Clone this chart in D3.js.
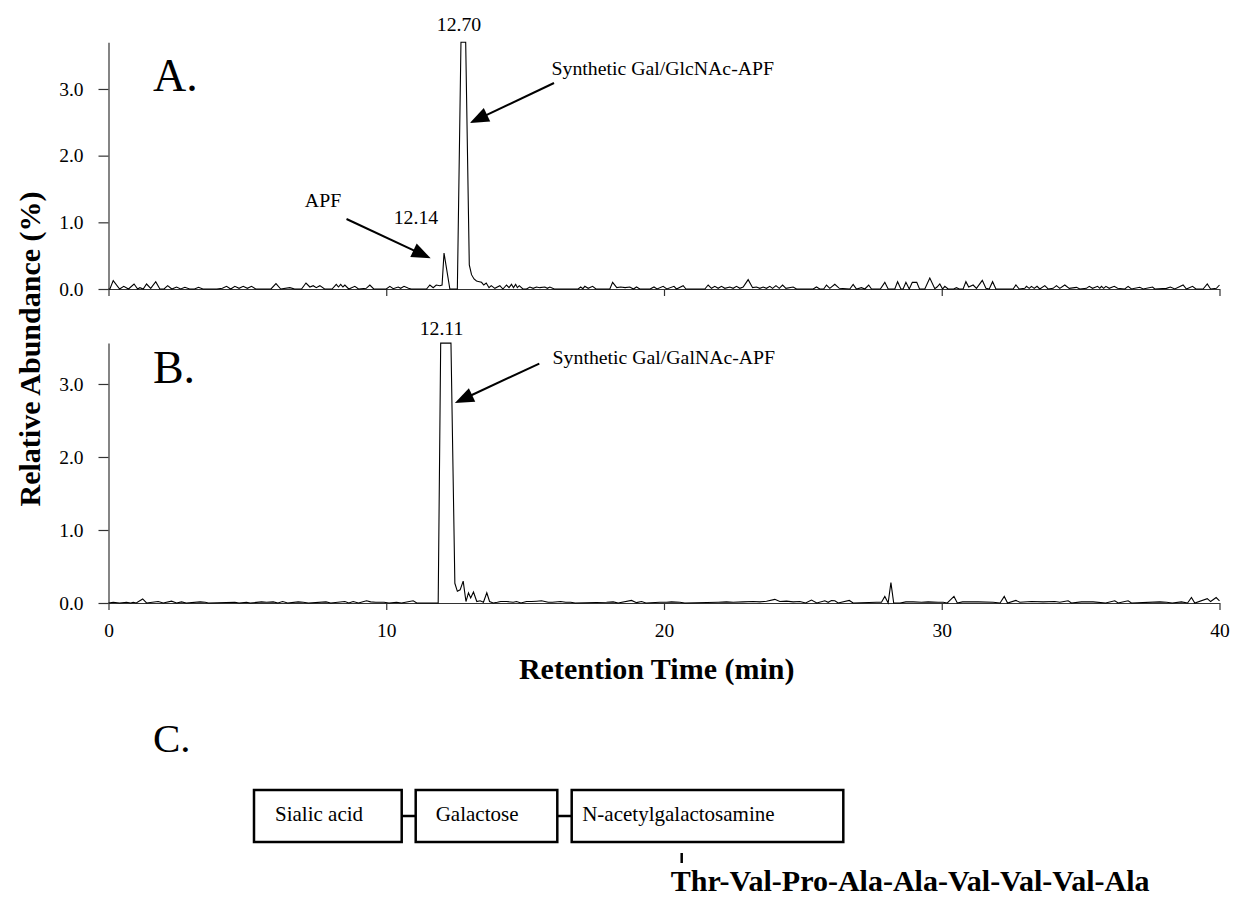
<!DOCTYPE html>
<html lang="en">
<head>
    <meta charset="UTF-8">
    <title>Chromatograms of synthetic glyco-APF</title>
    <script src="https://d3js.org/d3.v7.min.js"></script>
    <style>
        body {
            margin: 0;
            padding: 0;
            background-color: #fff;
        }
        svg text {
            font-family: "Liberation Serif", "Times New Roman", serif;
            fill: #000;
        }
        .axis path, .axis line {
            stroke: #333;
            stroke-width: 1.2;
        }
        .axis text {
            font-size: 19.5px;
        }
    </style>
</head>
<body>
<div id="chart"></div>
<script>
// x ticks (min) and y ticks (%)
const timeTicks = [0, 10, 20, 30, 40];
const abundanceTicks = [0, 1, 2, 3];

// trace A: [retention time (min), relative abundance (%)] - Gal/GlcNAc-APF run
// peak top is off scale, it gets clamped to the top of the axis
const traceA = [
    [0,0],[0.05,0],[0.17,0.125],[0.4,0],[0.55,0.04],[0.72,0],[0.92,0.075],[1.05,0],[1.13,0.02],[1.25,0],
    [1.37,0.075],[1.52,0.01],[1.7,0.11],[1.85,0],[2.0,0],[2.13,0.05],[2.28,0],[2.45,0.03],[2.6,0],[2.75,0.025],
    [2.92,0],[3.1,0],[3.24,0.025],[3.4,0],[3.9,0],[4.1,0.01],[4.25,0.04],[4.4,0],[4.55,0.04],[4.7,0.01],
    [4.85,0.04],[5.0,0.01],[5.15,0.04],[5.3,0],[5.85,0],[6.03,0.08],[6.2,0],[6.53,0.02],[6.7,0],[6.95,0],
    [7.11,0.09],[7.25,0.03],[7.37,0.05],[7.48,0.02],[7.61,0.05],[7.78,0],[8.05,0],[8.2,0.07],[8.28,0.03],[8.36,0.07],
    [8.44,0.03],[8.51,0.06],[8.65,0],[8.87,0.04],[9.0,0],[9.28,0.01],[9.41,0.06],[9.55,0],[10.0,0],[10.13,0.04],
    [10.25,0.005],[10.43,0.03],[10.52,0.01],[10.64,0.04],[10.8,0.01],[10.9,0],[11.45,0],[11.57,0.06],[11.69,0.02],[11.8,0.06],
    [11.93,0.05],[12.01,0.06],[12.08,0.54],[12.29,0],[12.56,0],[12.69,25],[12.86,25],[12.99,0.36],[13.07,0.215],[13.16,0.15],
    [13.25,0.12],[13.35,0.11],[13.43,0.1],[13.51,0.06],[13.6,0.09],[13.7,0.02],[13.78,0.05],[13.91,0.01],[14.09,0.05],[14.2,0],
    [14.33,0.06],[14.42,0.02],[14.51,0.07],[14.58,0.02],[14.66,0.07],[14.72,0.02],[14.79,0.05],[14.92,0],[15.05,0],[15.17,0.03],
    [15.29,0.01],[15.41,0.03],[15.53,0.02],[15.71,0.03],[15.8,0.01],[15.89,0.03],[16.05,0],[16.91,0],[17.0,0.03],[17.08,0.005],
    [17.15,0.04],[17.27,0.01],[17.43,0.04],[17.55,0],[18.05,0],[18.15,0.1],[18.3,0.02],[18.44,0.03],[18.6,0.02],[18.77,0.03],
    [18.9,0],[19.01,0.03],[19.13,0],[19.5,0],[19.64,0.03],[19.75,0],[19.97,0.04],[20.1,0],[20.36,0.04],[20.45,0],
    [20.69,0.05],[20.79,0],[21.47,0],[21.59,0.06],[21.71,0.01],[21.83,0.04],[21.95,0.01],[22.07,0.04],[22.19,0.01],[22.37,0.03],
    [22.49,0.01],[22.61,0.04],[22.73,0.01],[22.85,0.03],[23.03,0.14],[23.19,0.02],[23.33,0.03],[23.45,0.01],[23.57,0.03],[23.69,0.01],
    [23.81,0.04],[23.91,0.01],[24.03,0.05],[24.15,0.01],[24.27,0.06],[24.39,0.01],[24.65,0.03],[24.77,0],[25.37,0],[25.49,0.03],
    [25.61,0],[25.75,0],[25.85,0.06],[25.97,0.01],[26.15,0.07],[26.31,0.01],[26.69,0],[26.81,0.07],[26.93,0],[27.11,0.02],
    [27.23,0],[27.37,0.06],[27.47,0],[27.79,0],[27.95,0.1],[28.07,0],[28.31,0],[28.41,0.11],[28.53,0],[28.61,0],
    [28.71,0.1],[28.83,0],[28.94,0.1],[29.1,0.1],[29.2,0],[29.39,0],[29.57,0.165],[29.75,0.005],[29.83,0.03],[29.93,0.075],
    [30.03,0],[30.11,0.04],[30.23,0],[30.43,0],[30.53,0.02],[30.63,0],[30.77,0],[30.87,0.11],[30.97,0.03],[31.13,0.06],
    [31.25,0.01],[31.46,0.13],[31.59,0.01],[31.71,0],[31.83,0.11],[31.95,0],[32.57,0],[32.67,0.06],[32.79,0],[32.99,0.01],
    [33.05,0.04],[33.15,0.01],[33.23,0.04],[33.33,0.01],[33.43,0.04],[33.53,0],[33.71,0.05],[33.83,0],[34.01,0.01],[34.13,0.05],
    [34.25,0.01],[34.43,0.06],[34.59,0.01],[34.85,0.025],[34.97,0],[35.21,0.01],[35.31,0.04],[35.43,0.01],[35.61,0.04],[35.69,0.01],
    [35.75,0.04],[35.83,0.01],[35.91,0.04],[36.03,0.01],[36.21,0.04],[36.33,0.01],[36.59,0],[36.71,0.04],[36.83,0],[37.13,0.025],
    [37.25,0],[37.59,0.03],[37.67,0],[38.09,0.01],[38.23,0.03],[38.39,0],[38.69,0.06],[38.81,0],[39.03,0.04],[39.15,0],
    [39.41,0],[39.56,0.075],[39.68,0],[39.89,0.01],[40.0,0.06]
];

// trace B: Gal/GalNAc-APF run
const traceB = [
    [0,0],[0.17,0.01],[0.4,0],[0.65,0.01],[0.8,0],[0.89,0.01],[1.0,0],[1.23,0.055],[1.37,0],[1.79,0.02],
    [1.97,0],[2.27,0.025],[2.45,0],[2.63,0.015],[2.8,0],[3.3,0.015],[3.48,0.01],[3.6,0],[4.55,0.01],[4.7,0],
    [4.97,0.01],[5.1,0],[5.51,0.015],[5.69,0.01],[5.93,0.015],[6.1,0],[6.27,0.02],[6.45,0],[6.83,0.015],[7.01,0.01],
    [7.2,0],[7.83,0.015],[8.0,0],[8.51,0.02],[8.65,0],[8.81,0.02],[9.0,0],[9.29,0.03],[9.44,0.015],[9.62,0.01],
    [9.92,0.01],[10.1,0],[10.37,0.01],[10.55,0],[10.97,0.03],[11.1,0],[11.87,0],[11.96,25],[12.33,25],[12.47,0.27],
    [12.56,0.16],[12.66,0.18],[12.77,0.3],[12.87,0.02],[12.96,0.14],[13.04,0.07],[13.14,0.15],[13.26,0.02],[13.38,0.03],[13.5,0.01],
    [13.62,0.14],[13.72,0.02],[13.85,0],[14.0,0.01],[14.12,0.02],[14.33,0.02],[14.57,0.01],[14.69,0.02],[14.85,0],[15.05,0.02],
    [15.23,0.02],[15.41,0.025],[15.59,0.03],[15.71,0.02],[15.83,0.01],[15.98,0.01],[16.28,0.02],[16.46,0.01],[16.64,0.01],[16.8,0],
    [17.93,0.01],[18.17,0.015],[18.35,0],[18.83,0.035],[19.01,0.005],[19.19,0.02],[19.35,0],[19.85,0.01],[20.09,0.01],[20.27,0.015],
    [20.57,0.01],[20.75,0],[21.95,0.01],[22.25,0.015],[22.49,0.01],[22.85,0.015],[23.21,0.02],[23.45,0.015],[23.69,0.025],[23.99,0.05],
    [24.17,0.02],[24.41,0.025],[24.65,0.015],[24.89,0.02],[25.1,0],[25.31,0.04],[25.5,0],[25.79,0.03],[25.91,0.01],[26.03,0.035],
    [26.15,0.03],[26.27,0],[26.67,0.035],[26.81,0],[27.65,0.01],[27.83,0.01],[27.95,0.09],[28.07,0],[28.17,0.28],[28.27,0],
    [28.5,0],[28.71,0.015],[28.97,0.015],[29.27,0.01],[29.51,0.015],[29.87,0.01],[30.05,0.01],[30.2,0],[30.44,0.09],[30.56,0],
    [30.75,0.015],[31.31,0.015],[31.85,0.01],[32.1,0],[32.25,0.09],[32.37,0],[32.67,0.035],[32.81,0.01],[33.23,0.02],[33.65,0.015],
    [34.07,0.02],[34.25,0.01],[34.55,0.03],[34.67,0],[35.03,0.015],[35.45,0.015],[35.9,0],[36.23,0.03],[36.35,0],[36.71,0.03],
    [36.83,0],[37.85,0.015],[38.09,0.01],[38.3,0],[38.63,0.015],[38.85,0],[38.99,0.075],[39.11,0],[39.56,0.06],[39.68,0.02],
    [39.88,0.075],[40.0,0.03]
];

// panel C structure
const glycans = ["Sialic acid", "Galactose", "N-acetylgalactosamine"];
const peptide = ["Thr", "Val", "Pro", "Ala", "Ala", "Val", "Val", "Val", "Ala"];

const width = 1235, height = 900;

const svg = d3.select("#chart")
    .append("svg")
    .attr("width", width)
    .attr("height", height);

svg.append("rect").attr("width", width).attr("height", height).attr("fill", "#fff");

const x = d3.scaleLinear().domain([0, 40]).range([108.5, 1219.5]);

// each panel has its own y range (clamped so the big peaks get a flat top)
const panels = [
    { name: "A.", trace: traceA, y: d3.scaleLinear().domain([0, 3.7]).range([289, 42.3]).clamp(true), labels: false },
    { name: "B.", trace: traceB, y: d3.scaleLinear().domain([0, 3.56]).range([603, 343.1]).clamp(true), labels: true }
];

panels.forEach(p => {
    const yBase = p.y.range()[0];

    svg.append("g")
        .attr("class", "axis")
        .attr("transform", `translate(0,${yBase})`)
        .call(d3.axisBottom(x)
            .tickValues(timeTicks)
            .tickSize(7)
            .tickSizeOuter(0)
            .tickPadding(13)
            .tickFormat(p.labels ? d3.format("d") : ""));

    svg.append("g")
        .attr("class", "axis")
        .attr("transform", `translate(${x(0)},0)`)
        .call(d3.axisLeft(p.y)
            .tickValues(abundanceTicks)
            .tickSize(10)
            .tickSizeOuter(0)
            .tickPadding(15)
            .tickFormat(d3.format(".1f")));

    const line = d3.line()
        .x(d => x(d[0]))
        .y(d => p.y(d[1]));

    svg.append("path")
        .datum(p.trace)
        .attr("fill", "none")
        .attr("stroke", "#000")
        .attr("stroke-width", 1.1)
        .attr("stroke-linejoin", "miter")
        .attr("d", line);

    svg.append("text")
        .attr("x", x(1.6))
        .attr("y", p.y.copy().clamp(false)(p.name === "A." ? 2.97 : 3.01))
        .style("font-size", "46px")
        .text(p.name);
});

const yA = panels[0].y.copy().clamp(false);
const yB = panels[1].y.copy().clamp(false);

function label(text, t, v, yScale, anchor) {
    svg.append("text")
        .attr("x", x(t))
        .attr("y", yScale(v))
        .attr("text-anchor", anchor)
        .style("font-size", "19.8px")
        .text(text);
}

function arrow(t0, v0, t1, v1, yScale) {
    const x0 = x(t0), y0 = yScale(v0), x1 = x(t1), y1 = yScale(v1);
    const len = Math.hypot(x1 - x0, y1 - y0);
    const ux = (x1 - x0) / len, uy = (y1 - y0) / len;
    const headLen = 19, headW = 7.5;
    const bx = x1 - ux * headLen, by = y1 - uy * headLen;
    svg.append("line")
        .attr("x1", x0).attr("y1", y0)
        .attr("x2", bx + ux * 2).attr("y2", by + uy * 2)
        .attr("stroke", "#000")
        .attr("stroke-width", 2);
    svg.append("polygon")
        .attr("points", [
            [x1, y1],
            [bx - uy * headW, by + ux * headW],
            [bx + uy * headW, by - ux * headW]
        ].map(d => d.join(",")).join(" "))
        .attr("fill", "#000");
}

// panel A annotations
label("12.70", 12.62, 3.87, yA, "middle");
label("12.14", 11.07, 0.975, yA, "middle");
label("APF", 7.07, 1.23, yA, "start");
label("Synthetic Gal/GlcNAc-APF", 15.95, 3.21, yA, "start");
arrow(16.04, 3.09, 13.01, 2.49, yA);
arrow(8.57, 1.05, 11.6, 0.46, yA);

// panel B annotations
label("12.11", 11.99, 3.67, yB, "middle");
label("Synthetic Gal/GalNAc-APF", 15.99, 3.27, yB, "start");
arrow(15.51, 3.28, 12.47, 2.74, yB);

// axis titles
svg.append("text")
    .attr("transform", "translate(40,349) rotate(-90)")
    .attr("text-anchor", "middle")
    .style("font-size", "30px")
    .style("font-weight", "bold")
    .text("Relative Abundance (%)");

svg.append("text")
    .attr("x", 656.7)
    .attr("y", 679)
    .attr("text-anchor", "middle")
    .style("font-size", "30px")
    .style("font-weight", "bold")
    .text("Retention Time (min)");

// panel C: glycan chain on the peptide
svg.append("text")
    .attr("x", 153)
    .attr("y", 752)
    .style("font-size", "41px")
    .text("C.");

const boxes = [
    { x0: 254, x1: 401.7, pad: 21 },
    { x0: 415.7, x1: 557.3, pad: 20 },
    { x0: 571.7, x1: 843.3, pad: 10.5 }
];
const boxTop = 790, boxBottom = 842;
const boxMid = (boxTop + boxBottom) / 2;

const c = svg.append("g");

boxes.forEach((b, i) => {
    if (i > 0) {
        c.append("line")
            .attr("x1", boxes[i - 1].x1).attr("x2", b.x0)
            .attr("y1", boxMid).attr("y2", boxMid)
            .attr("stroke", "#000").attr("stroke-width", 2.5);
    }
    c.append("rect")
        .attr("x", b.x0).attr("y", boxTop)
        .attr("width", b.x1 - b.x0).attr("height", boxBottom - boxTop)
        .attr("fill", "none")
        .attr("stroke", "#000")
        .attr("stroke-width", 2.5);
    c.append("text")
        .attr("x", b.x0 + b.pad)
        .attr("y", 821)
        .style("font-size", "21px")
        .text(glycans[i]);
});

c.append("line")
    .attr("x1", 681.7).attr("x2", 681.7)
    .attr("y1", 853).attr("y2", 863)
    .attr("stroke", "#000").attr("stroke-width", 2.5);

c.append("text")
    .attr("x", 670.7)
    .attr("y", 891)
    .style("font-size", "30px")
    .style("font-weight", "bold")
    .text(peptide.join("-"));
</script>
</body>
</html>
